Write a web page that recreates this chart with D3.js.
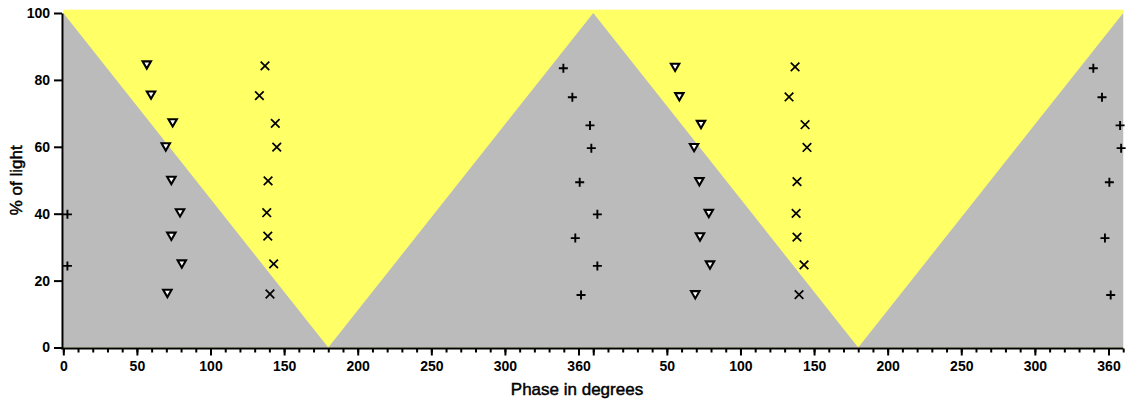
<!DOCTYPE html>
<html>
<head>
<meta charset="utf-8">
<script src="https://cdn.jsdelivr.net/npm/d3@7"></script>
<style>
  html, body { margin: 0; padding: 0; background: #fff; }
  svg { display: block; }
  text { font-family: "Liberation Sans", Arial, Helvetica, sans-serif; fill: #000; }
</style>
</head>
<body>
<svg id="chart" width="1126" height="405"></svg>
<script>
// Light profile across two cycles (phase in degrees, % of light at the V boundary)
const profilePhase = [0, 180, 360, 540, 720];
const profileLight = [100, 0, 100, 0, 100];

// Open down-triangle series
const triPhase = [56.7, 59.6, 74.3, 69.6, 73.4, 79.3, 73.4, 80.5, 70.7,
                  415.6, 418.5, 433.2, 428.5, 432.1, 438.5, 432.5, 439.3, 429.3];
const triLight = [84.5, 75.5, 67.2, 60.0, 50.0, 40.3, 33.3, 25.0, 16.2,
                  83.8, 75.0, 66.7, 59.8, 49.6, 40.1, 33.1, 24.7, 15.8];

// Cross (x) series
const crossPhase = [137.0, 133.2, 144.0, 145.0, 139.1, 138.2, 138.9, 142.9, 140.4,
                    497.1, 493.0, 503.9, 505.2, 498.4, 497.8, 498.4, 503.2, 499.8];
const crossLight = [84.2, 75.3, 67.0, 59.9, 49.8, 40.3, 33.3, 25.0, 16.0,
                    83.9, 74.9, 66.6, 59.8, 49.6, 40.1, 33.0, 24.7, 15.8];

// Plus (+) series
const plusPhase = [2.8, 2.8,
                   339.7, 345.8, 357.8, 358.7, 350.8, 362.8, 347.8, 362.8, 351.7,
                   699.7, 705.6, 717.9, 718.6, 710.6, 707.6, 711.5];
const plusLight = [39.8, 24.4,
                   83.5, 74.8, 66.4, 59.6, 49.4, 39.8, 32.7, 24.4, 15.7,
                   83.5, 74.8, 66.4, 59.6, 49.4, 32.7, 15.7];

// Axis ticks
const yTicks = [0, 20, 40, 60, 80, 100];
const xMajorTicks = [0, 50, 100, 150, 200, 250, 300, 350, 360, 410, 460, 510, 560, 610, 660, 710];
const xMajorLabels = ["0", "50", "100", "150", "200", "250", "300", "360", "", "50", "100", "150", "200", "250", "300", "360"];
const xMinorStep = 10;

const svg = d3.select("#chart");
const x = d3.scaleLinear().domain([0, 720]).range([63.3, 1123.2]);
const y = d3.scaleLinear().domain([0, 100]).range([347.5, 13]);

const YELLOW = "#FFFF66";
const GRAY = "#BBBBBB";

// Plot background (light)
svg.append("rect")
  .attr("x", x(0)).attr("y", y(101))
  .attr("width", x(720) - x(0)).attr("height", y(0) - y(101))
  .attr("fill", YELLOW);

// Dark area under the profile
const profile = profilePhase.map((p, i) => ({ p, v: profileLight[i] }));
svg.append("path")
  .datum(profile)
  .attr("fill", GRAY)
  .attr("d", d3.area().x(d => x(d.p)).y0(y(0)).y1(d => y(d.v)));

// Axes
const axisStyle = g => {
  g.selectAll("path.domain").attr("stroke", "#000").attr("stroke-width", 2);
  g.selectAll(".tick line").attr("stroke", "#000").attr("stroke-width", 2);
  g.selectAll(".tick text").attr("font-size", 14).attr("font-weight", "bold")
    .attr("font-family", "'Liberation Sans', Arial, sans-serif");
};

svg.append("g")
  .attr("transform", `translate(${x(0) - 1.3},0)`)
  .call(d3.axisLeft(y).tickValues(yTicks).tickSize(8).tickSizeOuter(0).tickPadding(4))
  .call(axisStyle);

const minorTicks = d3.range(0, 720 + 1, xMinorStep);
svg.append("g")
  .attr("transform", `translate(0,${y(0) + 1})`)
  .call(d3.axisBottom(x).tickValues(minorTicks).tickSize(4).tickFormat(""))
  .call(g => g.select("path.domain").remove())
  .call(axisStyle);

svg.append("g")
  .attr("transform", `translate(0,${y(0) + 1})`)
  .call(d3.axisBottom(x).tickValues(xMajorTicks).tickSize(7).tickSizeOuter(0).tickPadding(6)
    .tickFormat((d, i) => xMajorLabels[i]))
  .call(g => g.select("path.domain").attr("d", `M${x(0) - 2.3},0H${x(720)}`))
  .call(axisStyle);

// Axis titles (medium weight)
svg.append("text")
  .attr("x", 577).attr("y", 394.5)
  .attr("text-anchor", "middle")
  .attr("font-size", 17)
  .attr("stroke", "#000").attr("stroke-width", 0.45)
  .text("Phase in degrees");

svg.append("text")
  .attr("transform", `translate(21.5,${(y(0) + y(100)) / 2}) rotate(-90)`)
  .attr("text-anchor", "middle")
  .attr("font-size", 17)
  .attr("stroke", "#000").attr("stroke-width", 0.45)
  .text("% of light");

// Markers
const pts = (ph, li) => ph.map((p, i) => ({ p, v: li[i] }));

svg.append("g").selectAll("path")
  .data(pts(triPhase, triLight))
  .join("path")
  .attr("transform", d => `translate(${x(d.p)},${y(d.v)})`)
  .attr("d", "M-4.2,-3.5L4.2,-3.5L0,3.8Z")
  .attr("fill", "#fff").attr("stroke", "#000").attr("stroke-width", 2.1)
  .attr("stroke-linejoin", "miter");

svg.append("g").selectAll("path")
  .data(pts(crossPhase, crossLight))
  .join("path")
  .attr("transform", d => `translate(${x(d.p)},${y(d.v)})`)
  .attr("d", "M-4.3,-4.3L4.3,4.3M-4.3,4.3L4.3,-4.3")
  .attr("fill", "none").attr("stroke", "#000").attr("stroke-width", 1.7);

svg.append("g").selectAll("path")
  .data(pts(plusPhase, plusLight))
  .join("path")
  .attr("transform", d => `translate(${x(d.p)},${y(d.v)})`)
  .attr("d", "M-4.5,0H4.5M0,-4.5V4.5")
  .attr("fill", "none").attr("stroke", "#000").attr("stroke-width", 1.9);
</script>
</body>
</html>
